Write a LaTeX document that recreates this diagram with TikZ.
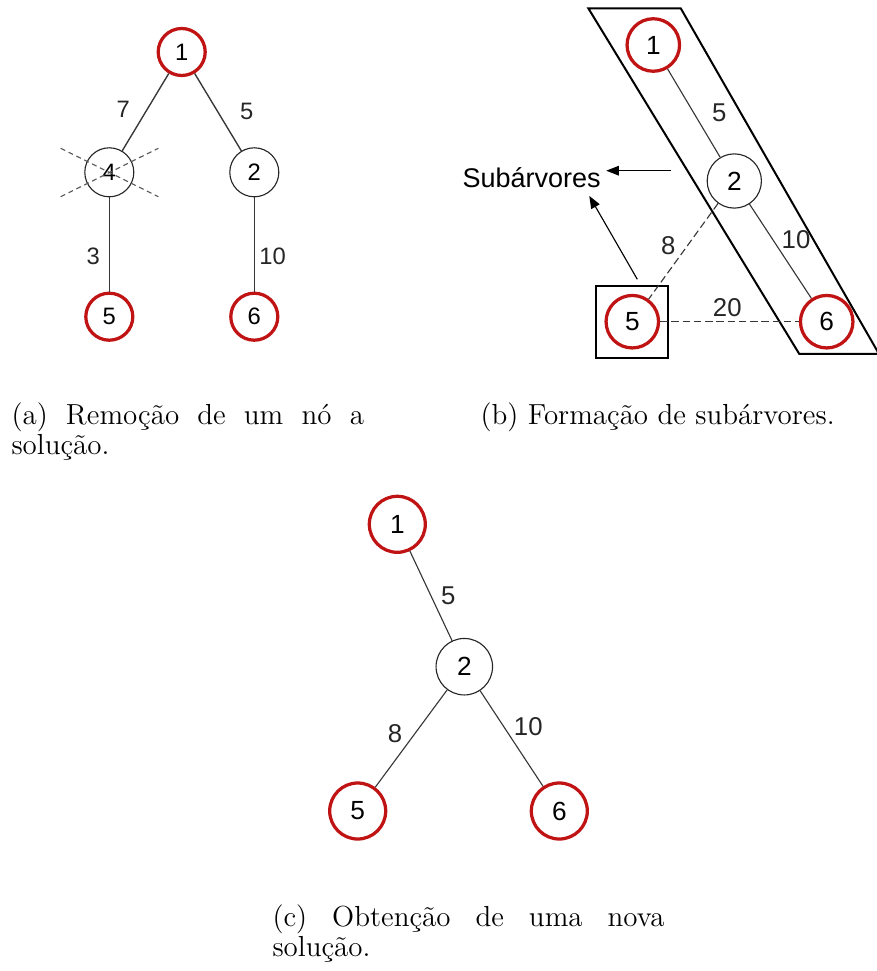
\documentclass[tikz,border=0pt]{standalone}
\usepackage{fontspec}
\newfontfamily\arialfont{Liberation Sans}
\usetikzlibrary{arrows.meta,fit}
\definecolor{solred}{RGB}{192,20,20}
\definecolor{edgegray}{RGB}{55,55,55}

\begin{document}
\begin{tikzpicture}[
    x=0.4pt, y=-0.4pt,
    >={Triangle[length=5pt,width=3.8pt]},
    sol/.style={circle, draw=solred, line width=1.3pt, minimum size=18.8pt, inner sep=0pt, font=\arialfont\fontsize{9.5}{10}\selectfont},
    aux/.style={circle, draw=black!85, line width=0.45pt, minimum size=19.6pt, inner sep=0pt, font=\arialfont\fontsize{9.5}{10}\selectfont},
    edge/.style={draw=edgegray, line width=0.55pt},
    weight/.style={text=black!85, font=\arialfont\fontsize{9.5}{10}\selectfont, inner sep=1pt},
    cut/.style={draw=black!65, line width=0.45pt, dash pattern=on 2pt off 1.5pt},
    caption/.style={anchor=base west, inner sep=0pt, font=\fontsize{11.6}{12}\selectfont}
]
    \useasboundingbox (0,0) rectangle (877,971);

    % (a) node 4 removed
    \begin{scope}
        \node[sol] (a1) at (181.7,52) {1};
        \node[aux] (a4) at (109.3,172.3) {4};
        \node[aux] (a2) at (254.3,172.3) {2};
        \node[sol] (a5) at (109.3,316.7) {5};
        \node[sol] (a6) at (254.3,316.7) {6};

        \draw[edge] (a1) -- (a4);
        \draw[edge] (a1) -- (a2);
        \draw[edge] (a4) -- (a5);
        \draw[edge] (a2) -- (a6);

        \node[weight] (wa14) at (123.3,109.3) {7};
        \node[weight] (wa12) at (246.7,111.5) {5};
        \node[weight] (wa45) at (93.3,256) {3};
        \node[weight] (wa26) at (272.7,256) {10};

        \draw[cut] ([shift={(-48.6,-24)}]a4.center) -- ([shift={(49,24.4)}]a4.center);
        \draw[cut] ([shift={(-48.6,24.4)}]a4.center) -- ([shift={(49,-24)}]a4.center);

        \node[caption] (capa) at (11,424) {\parbox[t]{141pt}{\makebox[\linewidth][s]{(a) Remoção de um nó a}\\solução.}};
    \end{scope}

    % (b) subtrees
    \begin{scope}[
        sol/.append style={minimum size=21pt, font=\arialfont\fontsize{10.5}{11}\selectfont},
        aux/.append style={minimum size=21.7pt, font=\arialfont\fontsize{10.5}{11}\selectfont},
        edge/.append style={line width=0.45pt},
        weight/.append style={font=\arialfont\fontsize{10.3}{11}\selectfont}
    ]
        \draw[line width=0.8pt] (588.3,8.3) -- (680.7,8.3) -- (879,354) -- (799.3,354) -- cycle;

        \node[sol] (b1) at (653.3,45) {1};
        \node[aux] (b2) at (734.3,181) {2};
        \node[sol] (b5) at (632.3,321.7) {5};
        \node[sol] (b6) at (826.7,321.7) {6};
        \node[draw, line width=0.8pt, inner sep=3.2pt, fit=(b5)] (box5) {};

        \draw[edge] (b1) -- (b2);
        \draw[edge] (b2) -- (b6);
        \draw[edge, dash pattern=on 3pt off 1.5pt] (b2) -- (b5);
        \draw[edge, dash pattern=on 3pt off 1.5pt] (b5) -- (b6);

        \node[weight] (wb12) at (719.3,112.3) {5};
        \node[weight] (wb26) at (796,239.3) {10};
        \node[weight] (wb25) at (668.3,246) {8};
        \node[weight] (wb56) at (727.3,307.3) {20};

        \node[font=\arialfont\fontsize{10.8}{11}\selectfont, inner sep=2pt] (sub) at (531.7,177.3) {Subárvores};
        \coordinate (pA) at (670.7,170.7);
        \coordinate (pB) at (637.3,279.3);
        \draw[->, black, line width=0.45pt] (pA) -- (pA -| sub.east);
        \draw[->, black, line width=0.45pt] (pB) -- ([shift={(-17,3)}]sub.south east);

        \node[caption] (capb) at (480,424) {(b) Formação de subárvores.};
    \end{scope}

    % (c) new solution
    \begin{scope}[
        sol/.append style={minimum size=22.4pt, font=\arialfont\fontsize{10.5}{11}\selectfont},
        aux/.append style={minimum size=22.6pt, font=\arialfont\fontsize{10.5}{11}\selectfont},
        edge/.append style={line width=0.45pt},
        weight/.append style={font=\arialfont\fontsize{10.3}{11}\selectfont}
    ]
        \node[sol] (c1) at (397.3,524.3) {1};
        \node[aux] (c2) at (464.3,666.7) {2};
        \node[sol] (c5) at (357.7,811) {5};
        \node[sol] (c6) at (559.3,811) {6};

        \draw[edge] (c1) -- (c2);
        \draw[edge] (c2) -- (c5);
        \draw[edge] (c2) -- (c6);

        \node[weight] (wc12) at (448.3,595.3) {5};
        \node[weight] (wc25) at (395,733.3) {8};
        \node[weight] (wc26) at (528.3,726.7) {10};

        \node[caption] (capc) at (272,926) {\parbox[t]{156.8pt}{\makebox[\linewidth][s]{(c) Obtenção de uma nova}\\solução.}};
    \end{scope}
\end{tikzpicture}
\end{document}
